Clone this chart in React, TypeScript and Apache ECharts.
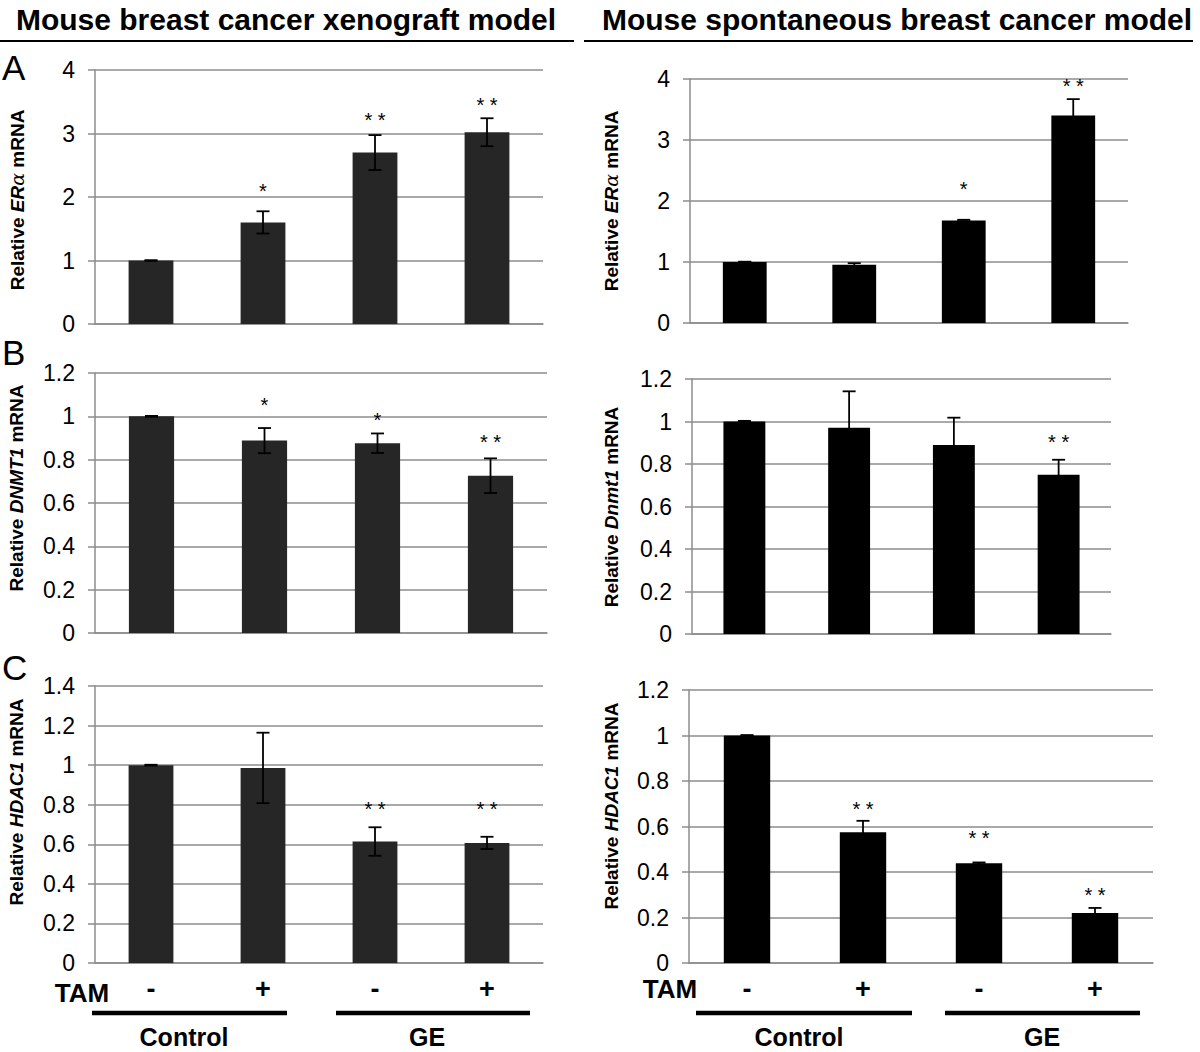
import React, { useEffect, useRef } from "react";
import * as echarts from "echarts";

const FF = '"Liberation Sans", Arial, Helvetica, sans-serif';

// ---------- text ----------
const headerTitles = ["Mouse breast cancer xenograft model", "Mouse spontaneous breast cancer model"];
const panelLetters = ["A", "B", "C"];
const tamLabels = ["-", "+", "-", "+"];
const groupLabels = ["Control", "GE"];

// ---------- data: xenograft model (left) ----------
const xenoEra = [1.0, 1.6, 2.7, 3.02];
const xenoEraErr = [0.005, 0.175, 0.275, 0.22];
const xenoEraStars = ["", "*", "* *", "* *"];
const xenoEraStarY = [null, 2.14, 3.26, 3.5];

const xenoDnmt1 = [1.0, 0.888, 0.876, 0.726];
const xenoDnmt1Err = [0.002, 0.058, 0.045, 0.08];
const xenoDnmt1Stars = ["", "*", "*", "* *"];
const xenoDnmt1StarY = [null, 1.066, 0.997, 0.895];

const xenoHdac1 = [1.0, 0.986, 0.614, 0.607];
const xenoHdac1Err = [0.002, 0.178, 0.072, 0.031];
const xenoHdac1Stars = ["", "", "* *", "* *"];
const xenoHdac1StarY = [null, null, 0.793, 0.793];

// ---------- data: spontaneous model (right) ----------
const sponEra = [1.0, 0.956, 1.68, 3.4];
const sponEraErr = [0.005, 0.025, 0.012, 0.27];
const sponEraStars = ["", "", "*", "* *"];
const sponEraStarY = [null, null, 2.25, 3.93];

const sponDnmt1 = [1.0, 0.971, 0.889, 0.749];
const sponDnmt1Err = [0.003, 0.171, 0.129, 0.071];
const sponDnmt1Stars = ["", "", "", "* *"];
const sponDnmt1StarY = [null, null, null, 0.918];

const sponHdac1 = [1.0, 0.575, 0.438, 0.22];
const sponHdac1Err = [0.002, 0.05, 0.004, 0.022];
const sponHdac1Stars = ["", "* *", "* *", "* *"];
const sponHdac1StarY = [null, 0.69, 0.563, 0.312];

// ---------- panel layout ----------
const panels = [
  { values: xenoEra, err: xenoEraErr, stars: xenoEraStars, starY: xenoEraStarY, max: 4, interval: 1,
    grid: { left: 95, top: 70, width: 448, height: 254 }, color: "#262626", showX: false,
    title: "{b|Relative }{i|ER}{g|α}{b| mRNA}", titlePos: [17, 200] },
  { values: sponEra, err: sponEraErr, stars: sponEraStars, starY: sponEraStarY, max: 4, interval: 1,
    grid: { left: 690, top: 79, width: 438, height: 244 }, color: "#000000", showX: false,
    title: "{b|Relative }{i|ER}{g|α}{b| mRNA}", titlePos: [611, 201] },
  { values: xenoDnmt1, err: xenoDnmt1Err, stars: xenoDnmt1Stars, starY: xenoDnmt1StarY, max: 1.2, interval: 0.2,
    grid: { left: 95, top: 373, width: 452, height: 260 }, color: "#262626", showX: false,
    title: "{b|Relative }{i|DNMT1}{b| mRNA}", titlePos: [16, 488] },
  { values: sponDnmt1, err: sponDnmt1Err, stars: sponDnmt1Stars, starY: sponDnmt1StarY, max: 1.2, interval: 0.2,
    grid: { left: 692, top: 379, width: 419, height: 255 }, color: "#000000", showX: false,
    title: "{b|Relative }{i|Dnmt1}{b| mRNA}", titlePos: [611, 507] },
  { values: xenoHdac1, err: xenoHdac1Err, stars: xenoHdac1Stars, starY: xenoHdac1StarY, max: 1.4, interval: 0.2,
    grid: { left: 95, top: 686, width: 448, height: 277 }, color: "#262626", showX: true,
    title: "{b|Relative }{i|HDAC1}{b| mRNA}", titlePos: [16, 802] },
  { values: sponHdac1, err: sponHdac1Err, stars: sponHdac1Stars, starY: sponHdac1StarY, max: 1.2, interval: 0.2,
    grid: { left: 689, top: 690, width: 464, height: 273 }, color: "#000000", showX: true,
    title: "{b|Relative }{i|HDAC1}{b| mRNA}", titlePos: [611, 806] },
];

const GRAY = "#8c8c8c";

const titleRich = {
  b: { fontFamily: FF, fontWeight: "bold", fontSize: 19, fill: "#000", color: "#000" },
  i: { fontFamily: FF, fontWeight: "bold", fontStyle: "italic", fontSize: 19, fill: "#000", color: "#000" },
  g: { fontFamily: '"DejaVu Serif", "Liberation Serif", serif', fontStyle: "italic", fontSize: 19, fill: "#000", color: "#000" },
};

function buildOption() {
  const grids: any[] = [];
  const xAxes: any[] = [];
  const yAxes: any[] = [];
  const series: any[] = [];
  const graphics: any[] = [];

  panels.forEach((p, k) => {
    grids.push({ ...p.grid, outerBoundsMode: "none", containLabel: false });
    xAxes.push({
      type: "category", gridIndex: k, data: tamLabels,
      axisLine: { show: true, lineStyle: { color: GRAY, width: 1.5 } },
      axisTick: { show: false },
      axisLabel: { show: p.showX, color: "#000", fontFamily: FF, fontWeight: "bold", fontSize: 27, margin: 12 },
      splitLine: { show: false },
    });
    yAxes.push({
      type: "value", gridIndex: k, min: 0, max: p.max, interval: p.interval,
      axisLine: { show: true, lineStyle: { color: GRAY, width: 1.5 } },
      axisTick: { show: true, length: 7, lineStyle: { color: GRAY, width: 1.5 } },
      axisLabel: { color: "#000", fontFamily: FF, fontSize: 23, margin: 20 },
      splitLine: { show: true, lineStyle: { color: GRAY, width: 1.5 } },
    });
    series.push({
      type: "bar", xAxisIndex: k, yAxisIndex: k, data: p.values, barWidth: "40%",
      itemStyle: { color: p.color }, silent: true,
    });
    const errData = p.values.map((v, i) => [i, v - p.err[i], v + p.err[i]]);
    series.push({
      type: "custom", xAxisIndex: k, yAxisIndex: k, data: errData, silent: true, z: 5,
      encode: { x: 0, y: [1, 2] },
      renderItem: (params: any, api: any) => {
        const i = api.value(0);
        const lo = api.value(1);
        const hi = api.value(2);
        const t = api.coord([i, hi]);
        const b = api.coord([i, lo]);
        const hw = 6.5;
        const st = { stroke: "#000", lineWidth: 1.8 };
        return {
          type: "group",
          children: [
            { type: "line", shape: { x1: t[0], y1: t[1], x2: b[0], y2: b[1] }, style: st },
            { type: "line", shape: { x1: t[0] - hw, y1: t[1], x2: t[0] + hw, y2: t[1] }, style: st },
            { type: "line", shape: { x1: b[0] - hw, y1: b[1], x2: b[0] + hw, y2: b[1] }, style: st },
          ],
        };
      },
    });
    const starItems: any[] = [];
    const starTexts: string[] = [];
    p.stars.forEach((s, i) => {
      if (s && p.starY[i] != null) {
        starItems.push([i, p.starY[i]]);
        starTexts.push(s);
      }
    });
    series.push({
      type: "custom", xAxisIndex: k, yAxisIndex: k, data: starItems, silent: true, z: 6,
      encode: { x: 0, y: 1 },
      renderItem: (params: any, api: any) => {
        const c = api.coord([api.value(0), api.value(1)]);
        return {
          type: "text",
          x: c[0], y: c[1] + 3,
          style: {
            text: starTexts[params.dataIndex], x: 0, y: 0,
            align: "center", verticalAlign: "middle",
            font: `20px ${FF}`, fill: "#000",
          },
        };
      },
    });
    graphics.push({
      type: "text", x: p.titlePos[0], y: p.titlePos[1], rotation: Math.PI / 2,
      style: { text: p.title, rich: titleRich, align: "center", verticalAlign: "middle", fill: "#000" },
    });
  });

  // header titles and rules
  graphics.push({ type: "text", x: 286, y: 19, style: { text: headerTitles[0], align: "center", verticalAlign: "middle", font: `bold 30px ${FF}`, fill: "#000" } });
  graphics.push({ type: "text", x: 897, y: 19, style: { text: headerTitles[1], align: "center", verticalAlign: "middle", font: `bold 30px ${FF}`, fill: "#000" } });
  graphics.push({ type: "line", shape: { x1: 0, y1: 41, x2: 574, y2: 41 }, style: { stroke: "#000", lineWidth: 2 } });
  graphics.push({ type: "line", shape: { x1: 584, y1: 41, x2: 1193, y2: 41 }, style: { stroke: "#000", lineWidth: 2 } });

  // panel letters
  const letterY = [67, 352, 667];
  panelLetters.forEach((L, i) => {
    graphics.push({ type: "text", x: 2, y: letterY[i], style: { text: L, align: "left", verticalAlign: "middle", font: `35px ${FF}`, fill: "#000" } });
  });

  // TAM labels
  graphics.push({ type: "text", x: 82, y: 993, style: { text: "TAM", align: "center", verticalAlign: "middle", font: `bold 26px ${FF}`, fill: "#000" } });
  graphics.push({ type: "text", x: 670, y: 989, style: { text: "TAM", align: "center", verticalAlign: "middle", font: `bold 26px ${FF}`, fill: "#000" } });

  // group bars and labels
  const groupLines = [[92, 287], [336, 530], [696, 912], [945, 1140]];
  const groupCenters = [184, 427, 799, 1042];
  groupLines.forEach((g, i) => {
    graphics.push({ type: "line", shape: { x1: g[0], y1: 1013, x2: g[1], y2: 1013 }, style: { stroke: "#000", lineWidth: 4.5 } });
    graphics.push({ type: "text", x: groupCenters[i], y: 1037, style: { text: groupLabels[i % 2], align: "center", verticalAlign: "middle", font: `bold 25px ${FF}`, fill: "#000" } });
  });

  return {
    animation: false,
    backgroundColor: "#ffffff",
    textStyle: { fontFamily: FF },
    grid: grids,
    xAxis: xAxes,
    yAxis: yAxes,
    series,
    graphic: graphics,
  };
}

export default function App() {
  const ref = useRef<HTMLDivElement>(null);
  useEffect(() => {
    if (!ref.current) return;
    const chart = echarts.init(ref.current, undefined, { renderer: "svg" });
    chart.setOption(buildOption() as any);
    return () => chart.dispose();
  }, []);
  return (
    <div
      ref={ref}
      style={{ position: "absolute", left: 0, top: 0, width: 1200, height: 1052, background: "#fff" }}
    />
  );
}
